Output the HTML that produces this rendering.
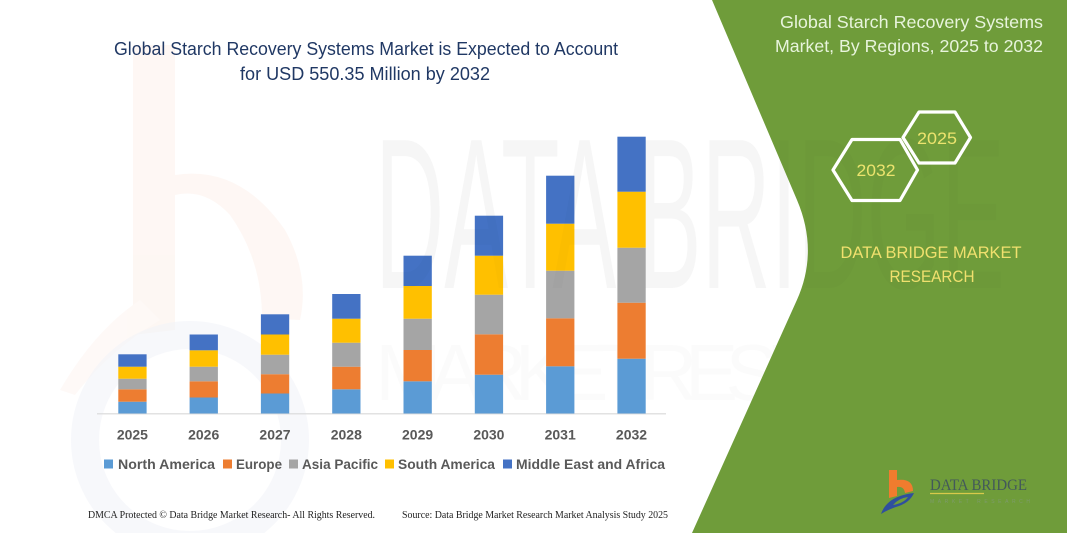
<!DOCTYPE html>
<html>
<head>
<meta charset="utf-8">
<style>
  html,body{margin:0;padding:0;background:#fff;width:1067px;height:533px;overflow:hidden;}
  svg{display:block;}
</style>
</head>
<body>
<svg width="1067" height="533" viewBox="0 0 1067 533" xmlns="http://www.w3.org/2000/svg" style="position:absolute;left:0;top:0;">
  <rect x="0" y="0" width="1067" height="533" fill="#ffffff"/>

  <!-- faint watermark logo (left) -->
  <g opacity="0.3">
    <path d="M133,45 L175,45 L175,175 Q240,165 285,230 Q310,275 300,320 L262,318 Q262,260 230,215 Q205,188 175,195 L175,330 L133,335 Z" fill="#fbe6da"/>
    <path d="M60,390 Q95,330 140,300 L160,320 Q110,350 75,395 Z" fill="#fcece3"/>
  </g>
  <circle cx="190" cy="440" r="105" fill="none" stroke="#f2f4f8" stroke-width="28" opacity="0.6"/>

  <!-- faint watermark text -->
  <text x="375" y="288" font-family="Liberation Sans, sans-serif" font-size="215" fill="#000" opacity="0.015" textLength="630" lengthAdjust="spacingAndGlyphs">DATA BRIDGE</text>
  <text x="375" y="400" font-family="Liberation Sans, sans-serif" font-size="80" fill="#000" opacity="0.012" textLength="620" lengthAdjust="spacing">MARKET RESEARCH</text>

  <!-- Title -->
  <text x="114" y="55" font-family="Liberation Sans, sans-serif" font-size="18" fill="#203864" textLength="504" lengthAdjust="spacingAndGlyphs">Global Starch Recovery Systems Market is Expected to Account</text>
  <text x="240" y="80" font-family="Liberation Sans, sans-serif" font-size="18" fill="#203864" textLength="250" lengthAdjust="spacingAndGlyphs">for USD 550.35 Million by 2032</text>

  <!-- Axis line -->
  <line x1="97" y1="413.8" x2="666" y2="413.8" stroke="#d9d9d9" stroke-width="1.2"/>

  <!-- Bars -->
  <g id="bars">
    <!-- 2025 -->
    <rect x="118.3" y="401.7" width="28.3" height="11.8" fill="#5b9bd5"/>
    <rect x="118.3" y="389.3" width="28.3" height="12.4" fill="#ed7d31"/>
    <rect x="118.3" y="378.7" width="28.3" height="10.6" fill="#a5a5a5"/>
    <rect x="118.3" y="366.7" width="28.3" height="12.0" fill="#ffc000"/>
    <rect x="118.3" y="354.3" width="28.3" height="12.4" fill="#4472c4"/>
    <!-- 2026 -->
    <rect x="189.6" y="397.5" width="28.3" height="16.0" fill="#5b9bd5"/>
    <rect x="189.6" y="381.3" width="28.3" height="16.2" fill="#ed7d31"/>
    <rect x="189.6" y="366.7" width="28.3" height="14.6" fill="#a5a5a5"/>
    <rect x="189.6" y="350.3" width="28.3" height="16.4" fill="#ffc000"/>
    <rect x="189.6" y="334.5" width="28.3" height="15.8" fill="#4472c4"/>
    <!-- 2027 -->
    <rect x="260.9" y="393.5" width="28.3" height="20.0" fill="#5b9bd5"/>
    <rect x="260.9" y="374.2" width="28.3" height="19.3" fill="#ed7d31"/>
    <rect x="260.9" y="354.7" width="28.3" height="19.5" fill="#a5a5a5"/>
    <rect x="260.9" y="334.5" width="28.3" height="20.2" fill="#ffc000"/>
    <rect x="260.9" y="314.3" width="28.3" height="20.2" fill="#4472c4"/>
    <!-- 2028 -->
    <rect x="332.2" y="389.3" width="28.3" height="24.2" fill="#5b9bd5"/>
    <rect x="332.2" y="366.7" width="28.3" height="22.6" fill="#ed7d31"/>
    <rect x="332.2" y="342.7" width="28.3" height="24.0" fill="#a5a5a5"/>
    <rect x="332.2" y="318.7" width="28.3" height="24.0" fill="#ffc000"/>
    <rect x="332.2" y="294.0" width="28.3" height="24.7" fill="#4472c4"/>
    <!-- 2029 -->
    <rect x="403.5" y="381.3" width="28.3" height="32.2" fill="#5b9bd5"/>
    <rect x="403.5" y="350.0" width="28.3" height="31.3" fill="#ed7d31"/>
    <rect x="403.5" y="318.7" width="28.3" height="31.3" fill="#a5a5a5"/>
    <rect x="403.5" y="286.0" width="28.3" height="32.7" fill="#ffc000"/>
    <rect x="403.5" y="255.7" width="28.3" height="30.3" fill="#4472c4"/>
    <!-- 2030 -->
    <rect x="474.8" y="374.7" width="28.3" height="38.8" fill="#5b9bd5"/>
    <rect x="474.8" y="334.3" width="28.3" height="40.4" fill="#ed7d31"/>
    <rect x="474.8" y="294.7" width="28.3" height="39.6" fill="#a5a5a5"/>
    <rect x="474.8" y="255.7" width="28.3" height="39.0" fill="#ffc000"/>
    <rect x="474.8" y="215.7" width="28.3" height="40.0" fill="#4472c4"/>
    <!-- 2031 -->
    <rect x="546.1" y="366.3" width="28.3" height="47.2" fill="#5b9bd5"/>
    <rect x="546.1" y="318.3" width="28.3" height="48.0" fill="#ed7d31"/>
    <rect x="546.1" y="270.7" width="28.3" height="47.6" fill="#a5a5a5"/>
    <rect x="546.1" y="223.7" width="28.3" height="47.0" fill="#ffc000"/>
    <rect x="546.1" y="175.7" width="28.3" height="48.0" fill="#4472c4"/>
    <!-- 2032 -->
    <rect x="617.4" y="358.7" width="28.3" height="54.8" fill="#5b9bd5"/>
    <rect x="617.4" y="302.7" width="28.3" height="56.0" fill="#ed7d31"/>
    <rect x="617.4" y="247.7" width="28.3" height="55.0" fill="#a5a5a5"/>
    <rect x="617.4" y="191.7" width="28.3" height="56.0" fill="#ffc000"/>
    <rect x="617.4" y="136.7" width="28.3" height="55.0" fill="#4472c4"/>
  </g>

  <!-- Year labels -->
  <g font-family="Liberation Sans, sans-serif" font-size="14" font-weight="bold" fill="#595959" text-anchor="middle">
    <text x="132.4" y="439.5">2025</text>
    <text x="203.7" y="439.5">2026</text>
    <text x="275.0" y="439.5">2027</text>
    <text x="346.3" y="439.5">2028</text>
    <text x="417.6" y="439.5">2029</text>
    <text x="488.9" y="439.5">2030</text>
    <text x="560.2" y="439.5">2031</text>
    <text x="631.5" y="439.5">2032</text>
  </g>

  <!-- Legend -->
  <g font-family="Liberation Sans, sans-serif" font-size="13.5" font-weight="bold" fill="#595959">
    <rect x="104" y="459.5" width="9" height="9" fill="#5b9bd5"/>
    <text x="118" y="469" textLength="97" lengthAdjust="spacingAndGlyphs">North America</text>
    <rect x="223" y="459.5" width="9" height="9" fill="#ed7d31"/>
    <text x="236" y="469" textLength="46" lengthAdjust="spacingAndGlyphs">Europe</text>
    <rect x="289" y="459.5" width="9" height="9" fill="#a5a5a5"/>
    <text x="302" y="469" textLength="76" lengthAdjust="spacingAndGlyphs">Asia Pacific</text>
    <rect x="385" y="459.5" width="9" height="9" fill="#ffc000"/>
    <text x="398" y="469" textLength="97" lengthAdjust="spacingAndGlyphs">South America</text>
    <rect x="503" y="459.5" width="9" height="9" fill="#4472c4"/>
    <text x="516" y="469" textLength="149" lengthAdjust="spacingAndGlyphs">Middle East and Africa</text>
  </g>

  <!-- Footer -->
  <g font-family="Liberation Serif, serif" font-size="10" fill="#222">
    <text x="88" y="518" textLength="287" lengthAdjust="spacingAndGlyphs">DMCA Protected © Data Bridge Market Research-  All Rights Reserved.</text>
    <text x="402" y="518" textLength="266" lengthAdjust="spacingAndGlyphs">Source:  Data Bridge Market Research  Market Analysis Study 2025</text>
  </g>

  <!-- Green panel -->
  <path d="M712,0 L1067,0 L1067,533 L692,533 L796.9,300 Q818.8,251.3 797,200 Z" fill="#6f9c3a"/>
  <!-- faint watermark over green -->
  <text x="375" y="288" font-family="Liberation Sans, sans-serif" font-size="215" fill="#000" opacity="0.012" textLength="630" lengthAdjust="spacingAndGlyphs">DATA BRIDGE</text>

  <!-- Right title -->
  <g font-family="Liberation Sans, sans-serif" font-size="17.5" fill="#e8f4dc" text-anchor="end">
    <text x="1043" y="28" textLength="263" lengthAdjust="spacingAndGlyphs">Global Starch Recovery Systems</text>
    <text x="1043" y="52" textLength="268" lengthAdjust="spacingAndGlyphs">Market, By Regions, 2025 to 2032</text>
  </g>

  <!-- Hexagons -->
  <g fill="none" stroke="#ffffff" stroke-width="3.2" stroke-linejoin="round">
    <polygon points="833,170 852,139.5 900,139.5 917.5,170 900,200.5 852,200.5"/>
    <polygon points="903,137.5 919,112 955,112 970.5,137.5 955,163 919,163"/>
  </g>
  <g font-family="Liberation Sans, sans-serif" font-size="17" fill="#ece36e" text-anchor="middle">
    <text x="876" y="176" textLength="39" lengthAdjust="spacingAndGlyphs">2032</text>
    <text x="937" y="144" textLength="40" lengthAdjust="spacingAndGlyphs">2025</text>
  </g>

  <!-- DATA BRIDGE MARKET RESEARCH -->
  <g font-family="Liberation Sans, sans-serif" font-size="17" fill="#f0e06e" text-anchor="middle">
    <text x="931" y="258" textLength="181" lengthAdjust="spacingAndGlyphs">DATA BRIDGE MARKET</text>
    <text x="932" y="282" textLength="85" lengthAdjust="spacingAndGlyphs">RESEARCH</text>
  </g>

  <!-- Logo -->
  <g>
    <path d="M889,470 L897,470 L897,480 Q913,478 913,491 L905,493 Q904,486 897,487 L897,496 L889,498 Z" fill="#f07c2e"/>
    <path d="M881,514 Q887,496 914,493 Q910,502 899,506 Q889,509 881,514 Z" fill="#2f4f9e"/>
    <path d="M893,505 Q899,498 908,497 Q904,503 893,505 Z" fill="#6f9c3a"/>
    <text x="930" y="490" font-family="Liberation Serif, serif" font-size="16" fill="#43595a" textLength="97" lengthAdjust="spacingAndGlyphs">DATA BRIDGE</text>
    <line x1="930" y1="493.5" x2="984" y2="493.5" stroke="#d8c94a" stroke-width="1.2"/>
    <text x="930" y="503" font-family="Liberation Sans, sans-serif" font-size="5" fill="#7d9b6a" textLength="100" lengthAdjust="spacing">MARKET RESEARCH</text>
  </g>
</svg>
</body>
</html>
